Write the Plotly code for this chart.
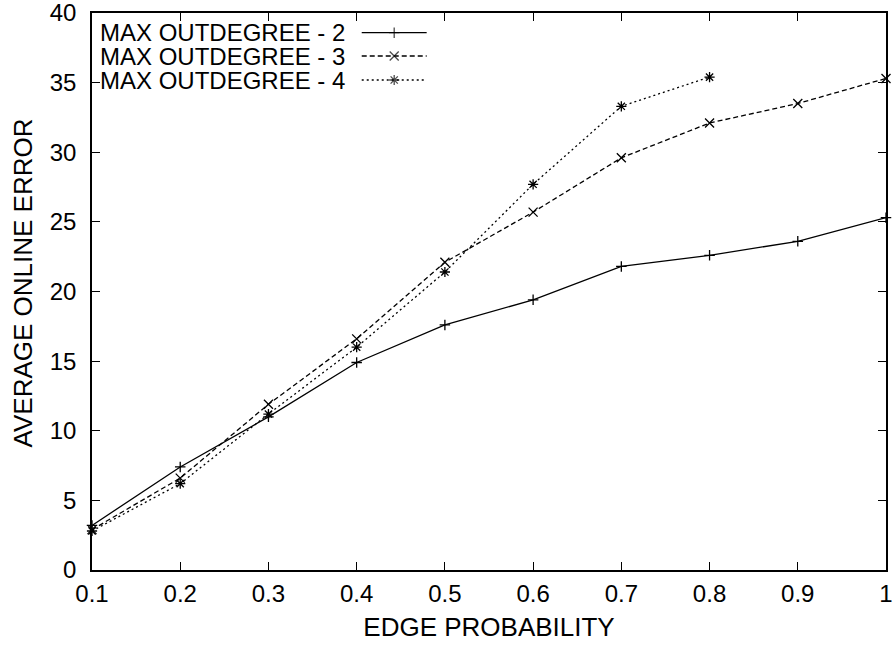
import plotly.graph_objects as go

# ---- data ----
edge_prob = [0.1, 0.2, 0.3, 0.4, 0.5, 0.6, 0.7, 0.8, 0.9, 1.0]
max_out_2 = [3.2, 7.4, 11.0, 14.9, 17.6, 19.4, 21.8, 22.6, 23.6, 25.3]
max_out_3 = [2.9, 6.6, 11.9, 16.6, 22.1, 25.7, 29.6, 32.1, 33.5, 35.3]
edge_prob_4 = [0.1, 0.2, 0.3, 0.4, 0.5, 0.6, 0.7, 0.8]
max_out_4 = [2.8, 6.2, 11.2, 16.0, 21.4, 27.7, 33.3, 35.4]

series_names = ["MAX OUTDEGREE - 2", "MAX OUTDEGREE - 3", "MAX OUTDEGREE - 4"]
x_tickvals = [0.1, 0.2, 0.3, 0.4, 0.5, 0.6, 0.7, 0.8, 0.9, 1.0]
x_ticktext = ["0.1", "0.2", "0.3", "0.4", "0.5", "0.6", "0.7", "0.8", "0.9", "1"]
y_tickvals = [0, 5, 10, 15, 20, 25, 30, 35, 40]

FONT = "Liberation Sans, Arial, Helvetica, sans-serif"
styles = [
    dict(dash="solid", symbol="cross-thin", size=7.5),
    dict(dash="5px,3px", symbol="x-thin", size=9),
    dict(dash="2px,3px", symbol="asterisk", size=8.5),
]

fig = go.Figure()
series = [(edge_prob, max_out_2), (edge_prob, max_out_3), (edge_prob_4, max_out_4)]
for (xs, ys), name, st in zip(series, series_names, styles):
    fig.add_trace(go.Scatter(
        x=xs, y=ys, name=name, mode="lines+markers",
        line=dict(color="black", width=1.3, dash=st["dash"]),
        marker=dict(symbol=st["symbol"], size=st["size"], color="black",
                    line=dict(color="black", width=1.3)),
        showlegend=False, cliponaxis=False,
    ))

# ---- gnuplot-style key (text, then line sample) on an overlay axis ----
key_rows_y = [0.9646, 0.9228, 0.8797]
key_sample_x = [0.3397, 0.3806, 0.4215]
key_text_x = 0.3208
for name, st, ky in zip(series_names, styles, key_rows_y):
    fig.add_trace(go.Scatter(
        x=key_sample_x, y=[ky, ky, ky], mode="lines+markers",
        xaxis="x2", yaxis="y2", hoverinfo="skip", showlegend=False,
        line=dict(color="black", width=1.3, dash=st["dash"]),
        marker=dict(symbol=st["symbol"], size=[0, st["size"], 0], color="black",
                    line=dict(color="black", width=1.3)),
    ))
    fig.add_annotation(x=key_text_x, y=ky, xref="paper", yref="paper",
                       text=name, showarrow=False, xanchor="right", yanchor="middle",
                       font=dict(family=FONT, size=24, color="black"))

# y-axis title, placed like the reference (slightly above the plot centre)
fig.add_annotation(x=-0.0865, y=0.515, xref="paper", yref="paper",
                   text="AVERAGE ONLINE ERROR", textangle=-90, showarrow=False,
                   xanchor="center", yanchor="middle",
                   font=dict(family=FONT, size=26, color="black"))

axis_common = dict(
    showline=True, linecolor="black", linewidth=1.5, mirror="allticks",
    ticks="inside", ticklen=8, tickwidth=1, tickcolor="black",
    showgrid=False, zeroline=False, automargin=False,
    ticklabeloverflow="allow",
    tickfont=dict(family=FONT, size=24, color="black"),
)

fig.update_layout(
    template="none",
    width=896, height=646,
    paper_bgcolor="white", plot_bgcolor="white",
    margin=dict(l=92, r=10, t=13, b=76),
    font=dict(family=FONT, size=24, color="black"),
    xaxis=dict(range=[0.1, 1.0], tickvals=x_tickvals, ticktext=x_ticktext,
               ticklabelstandoff=1,
               title=dict(text="EDGE PROBABILITY", standoff=12,
                          font=dict(family=FONT, size=26, color="black")),
               **axis_common),
    yaxis=dict(range=[0, 40], tickvals=y_tickvals, ticklabelstandoff=9,
               **axis_common),
    xaxis2=dict(overlaying="x", range=[0, 1], visible=False, fixedrange=True),
    yaxis2=dict(overlaying="y", range=[0, 1], visible=False, fixedrange=True),
)

fig.write_html(
    "out.html",
    config={"displayModeBar": False},
    post_script="document.body.style.margin='0';document.body.style.overflow='hidden';",
)
